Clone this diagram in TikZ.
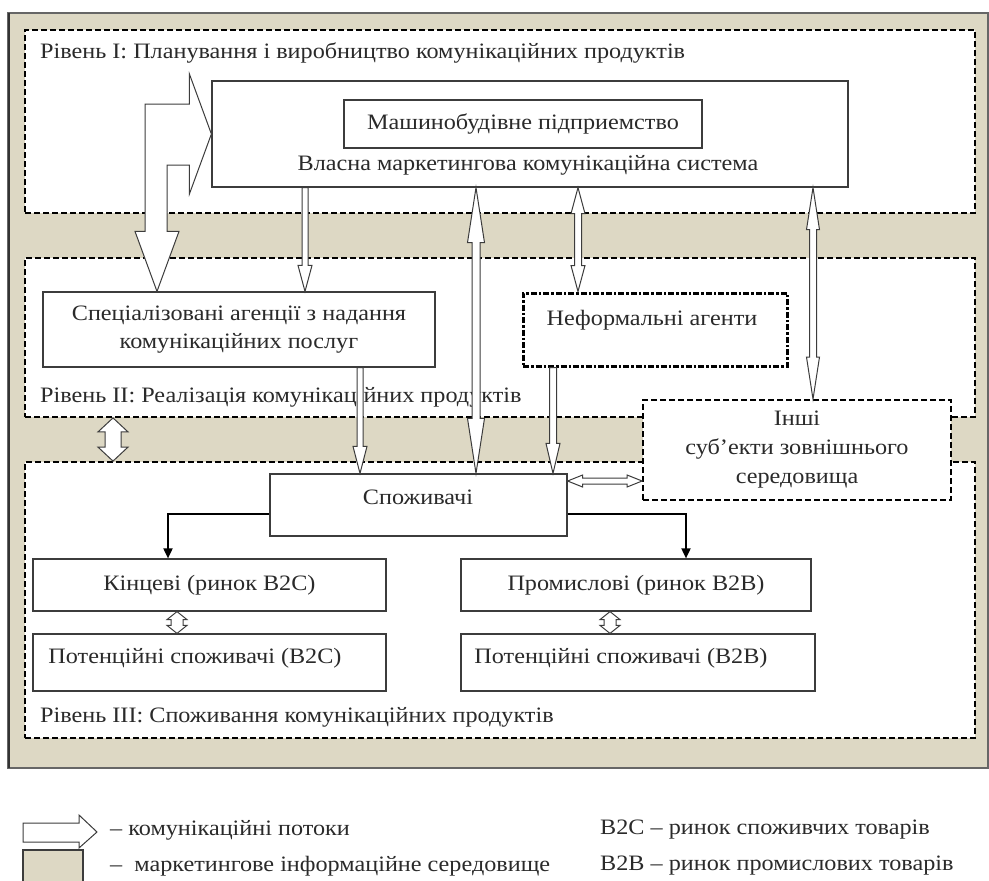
\documentclass[tikz,border=0pt]{standalone}
\usepackage{fontspec}
\setmainfont{Liberation Serif}[FakeStretch=1.1]
\usetikzlibrary{calc,arrows.meta}
\definecolor{envbeige}{HTML}{DDD8C4}
\definecolor{boxline}{HTML}{3C3C3C}
\definecolor{txtcol}{HTML}{2A2A2A}

\newcommand\vsingle[5]{%
  \path[flowline] let \p1=#1, \p2=#2 in
   (\x1-#3,\y1) -- (\x1-#3,\y2+#5) -- (\x1-#4,\y2+#5) -- (\x1,\y2) --
   (\x1+#4,\y2+#5) -- (\x1+#3,\y2+#5) -- (\x1+#3,\y1) -- cycle;}
\newcommand\vdouble[5]{%
  \path[flowline] let \p1=#1, \p2=#2 in
   (\x1,\y1) -- (\x1+#4,\y1-#5) -- (\x1+#3,\y1-#5) -- (\x1+#3,\y2+#5) --
   (\x1+#4,\y2+#5) -- (\x1,\y2) -- (\x1-#4,\y2+#5) -- (\x1-#3,\y2+#5) --
   (\x1-#3,\y1-#5) -- (\x1-#4,\y1-#5) -- cycle;}
\newcommand\hdouble[5]{%
  \path[flowline] let \p1=#1, \p2=#2 in
   (\x1,\y1) -- (\x1+#5,\y1+#4) -- (\x1+#5,\y1+#3) -- (\x2-#5,\y1+#3) --
   (\x2-#5,\y1+#4) -- (\x2,\y1) -- (\x2-#5,\y1-#4) -- (\x2-#5,\y1-#3) --
   (\x1+#5,\y1-#3) -- (\x1+#5,\y1-#4) -- cycle;}

\tikzset{
  every node/.style={font=\fontsize{22}{28}\selectfont, text=txtcol},
  levelbox/.style={draw=black, line width=1.8pt, dash pattern=on 6pt off 3pt, fill=white, inner sep=0pt},
  plainbox/.style={draw=boxline, line width=1.2pt, fill=white, inner sep=0pt},
  dotbox/.style={draw=black, line width=3pt, dash pattern=on 6pt off 2pt on 2.5pt off 2pt, fill=white, inner sep=0pt},
  flowline/.style={draw=boxline, line width=1pt, fill=white, line join=miter},
  blackarrow/.style={draw=black, line width=1.8pt, -{Triangle[length=10pt,width=9pt]}},
  lbl/.style={anchor=west, inner sep=0pt},
  txt/.style={inner sep=0pt, align=center},
}

\begin{document}
\begin{tikzpicture}[x=1pt,y=-1pt]
\useasboundingbox (0,0) rectangle (989,881);

% marketing information environment
\path[fill=envbeige, draw=gray!80!black, line width=1.2pt] (8,13) rectangle (988,768);
\draw[black!80, line width=2pt] (9,13) -- (9,768);

% levels
\node[levelbox, minimum width=950, minimum height=183] (lev1) at (500,121.5) {};
\node[levelbox, minimum width=950, minimum height=159] (lev2) at (500,337.5) {};
\node[levelbox, minimum width=950, minimum height=276] (lev3) at (500,600) {};

\node[lbl] (lab1) at (40,53) {Рівень I: Планування і виробництво комунікаційних продуктів};
\node[lbl] (lab2) at (40,397) {Рівень II: Реалізація комунікаційних продуктів};
\node[lbl] (lab3) at (40,717) {Рівень III: Споживання комунікаційних продуктів};

% level I
\node[plainbox, minimum width=636, minimum height=106] (main) at (530,134) {};
\node[plainbox, minimum width=358, minimum height=48] (firm) at (523,124) {Машинобудівне підприемство};
\node[txt] (sysname) at (528,165) {Власна маркетингова комунікаційна система};

% level II
\node[plainbox, txt, minimum width=392, minimum height=75] (spec) at (239,329.5)
  {Спеціалізовані агенції з надання\\комунікаційних послуг};
\node[dotbox, minimum width=264, minimum height=73] (neform) at (655,329.5) {};
\node[txt] (neformtxt) at (652,320) {Неформальні агенти};
\node[levelbox, txt, minimum width=308, minimum height=100, font=\fontsize{22}{29}\selectfont] (inshi) at (797,450)
  {Інші\\суб’екти зовнішнього\\середовища};

% level III
\node[plainbox, minimum width=297, minimum height=62] (cons) at (418.5,505) {};
\node[txt] (constxt) at (418,497) {Споживачі};
\node[plainbox, minimum width=353, minimum height=52] (kinc) at (209.5,585) {Кінцеві (ринок B2C)};
\node[plainbox, minimum width=353, minimum height=57] (potc) at (209.5,662.5) {};
\node[txt] (potctxt) at (195,658) {Потенційні споживачі (B2C)};
\node[plainbox, minimum width=350, minimum height=52] (prom) at (636,585) {Промислові (ринок B2B)};
\node[plainbox, minimum width=354, minimum height=57] (potb) at (638,662.5) {};
\node[txt] (potbtxt) at (621,658) {Потенційні споживачі (B2B)};

% x positions of the flows
\coordinate (xBig) at (157,0);
\coordinate (xA) at (305,0);
\coordinate (xB) at (476,0);
\coordinate (xC) at (578,0);
\coordinate (xD) at (813,0);
\coordinate (xE) at (360,0);
\coordinate (xF) at (553,0);
\coordinate (xL) at (113,0);
\coordinate (xK) at (168,0);
\coordinate (xP) at (686,0);
\coordinate (xS1) at (177,0);
\coordinate (xS2) at (610,0);

% big bent flow
\path[flowline] let \p1=(main.west), \p2=(spec.north -| xBig) in
  (\x2-12pt,\y1+30pt) -- (\x1-22pt,\y1+30pt) -- (\x1-22pt,\y1+60pt) -- (\x1,\y1) --
  (\x1-22pt,\y1-60pt) -- (\x1-22pt,\y1-31pt) -- (\x2+10pt,\y1-31pt) -- (\x2+10pt,\y2+60pt) --
  (\x2+22pt,\y2+60pt) -- (\x2,\y2) -- (\x2-22pt,\y2+60pt) -- (\x2-12pt,\y2+60pt) -- cycle;

% communication flows
\vsingle{(main.south -| xA)}{(spec.north -| xA)}{3pt}{7pt}{26pt}
\vdouble{(main.south -| xB)}{(cons.north -| xB)}{4pt}{8.5pt}{55pt}
\vdouble{(main.south -| xC)}{(neform.north -| xC)}{3.5pt}{7pt}{26pt}
\vdouble{(main.south -| xD)}{(inshi.north -| xD)}{3.5pt}{6.5pt}{42pt}
\vsingle{(spec.south -| xE)}{(cons.north -| xE)}{3pt}{7pt}{27pt}
\vsingle{(neform.south -| xF)}{(cons.north -| xF)}{3.5pt}{7pt}{30pt}
\coordinate (gy) at ([yshift=24pt]cons.east);
\hdouble{(gy)}{(inshi.west |- gy)}{3pt}{6pt}{15pt}
\vdouble{(lev2.south -| xL)}{(lev3.north -| xL)}{8pt}{15pt}{14pt}
\vdouble{(kinc.south -| xS1)}{(potc.north -| xS1)}{6pt}{10pt}{8pt}
\vdouble{(prom.south -| xS2)}{(potb.north -| xS2)}{6pt}{10pt}{8pt}

% consumers split
\draw[blackarrow] ([yshift=-9pt]cons.west) -| (kinc.north -| xK);
\draw[blackarrow] ([yshift=-9pt]cons.east) -| (prom.north -| xP);

% legend
\path[flowline] (23,823) -- (79,823) -- (79,815) -- (97,832) -- (79,848) -- (79,842) -- (23,842) -- cycle;
\path[fill=envbeige, draw=boxline, line width=1.2pt] (23,882) -- (23,850) -- (83,850) -- (83,882);
\node[lbl] (leg1) at (110,830) {– комунікаційні потоки};
\node[lbl] (leg2) at (110,866) {–\ \ маркетингове інформаційне середовище};
\node[lbl] (leg3) at (600,830) {B2C – ринок споживчих товарів};
\node[lbl] (leg4) at (600,866) {B2B – ринок промислових товарів};
\end{tikzpicture}
\end{document}
